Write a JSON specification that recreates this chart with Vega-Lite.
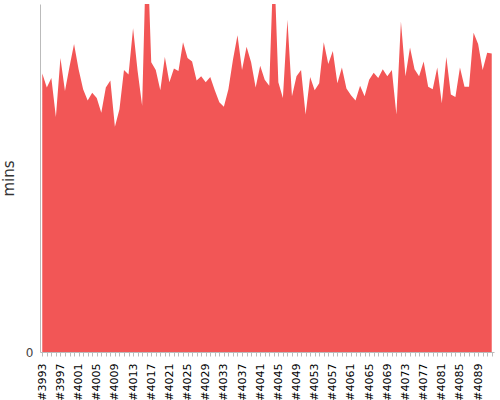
{
  "$schema": "https://vega.github.io/schema/vega-lite/v6.json",
  "description": "Build duration per run, area chart clipped at the top.",
  "width": 454,
  "height": 348,
  "autosize": {"type": "none"},
  "padding": {"left": 40, "top": 4, "right": 6, "bottom": 48},
  "background": "white",
  "config": {"view": {"stroke": null}, "font": "DejaVu Sans"},
  "data": {
    "values": [
      {"build": "#3993", "mins": 32.0}, {"build": "#3994", "mins": 30.4}, {"build": "#3995", "mins": 31.5}, {"build": "#3996", "mins": 27.0},
      {"build": "#3997", "mins": 33.8}, {"build": "#3998", "mins": 30.0}, {"build": "#3999", "mins": 32.8}, {"build": "#4000", "mins": 35.4},
      {"build": "#4001", "mins": 32.5}, {"build": "#4002", "mins": 30.2}, {"build": "#4003", "mins": 28.9}, {"build": "#4004", "mins": 29.8},
      {"build": "#4005", "mins": 29.2}, {"build": "#4006", "mins": 27.5}, {"build": "#4007", "mins": 30.4}, {"build": "#4008", "mins": 31.2},
      {"build": "#4009", "mins": 25.9}, {"build": "#4010", "mins": 27.9}, {"build": "#4011", "mins": 32.4}, {"build": "#4012", "mins": 31.9},
      {"build": "#4013", "mins": 37.2}, {"build": "#4014", "mins": 32.3}, {"build": "#4015", "mins": 28.3}, {"build": "#4016", "mins": 48.6},
      {"build": "#4017", "mins": 33.3}, {"build": "#4018", "mins": 32.4}, {"build": "#4019", "mins": 30.1}, {"build": "#4020", "mins": 33.9},
      {"build": "#4021", "mins": 31.0}, {"build": "#4022", "mins": 32.6}, {"build": "#4023", "mins": 32.3}, {"build": "#4024", "mins": 35.6},
      {"build": "#4025", "mins": 33.8}, {"build": "#4026", "mins": 33.4}, {"build": "#4027", "mins": 31.2}, {"build": "#4028", "mins": 31.7},
      {"build": "#4029", "mins": 31.0}, {"build": "#4030", "mins": 31.6}, {"build": "#4031", "mins": 30.1}, {"build": "#4032", "mins": 28.7},
      {"build": "#4033", "mins": 28.2}, {"build": "#4034", "mins": 30.2}, {"build": "#4035", "mins": 33.6}, {"build": "#4036", "mins": 36.4},
      {"build": "#4037", "mins": 32.4}, {"build": "#4038", "mins": 35.1}, {"build": "#4039", "mins": 33.3}, {"build": "#4040", "mins": 30.4},
      {"build": "#4041", "mins": 32.9}, {"build": "#4042", "mins": 31.3}, {"build": "#4043", "mins": 30.6}, {"build": "#4044", "mins": 45.7},
      {"build": "#4045", "mins": 31.0}, {"build": "#4046", "mins": 29.2}, {"build": "#4047", "mins": 38.2}, {"build": "#4048", "mins": 29.4},
      {"build": "#4049", "mins": 31.7}, {"build": "#4050", "mins": 32.4}, {"build": "#4051", "mins": 27.3}, {"build": "#4052", "mins": 31.6},
      {"build": "#4053", "mins": 30.1}, {"build": "#4054", "mins": 30.9}, {"build": "#4055", "mins": 35.6}, {"build": "#4056", "mins": 33.1},
      {"build": "#4057", "mins": 34.6}, {"build": "#4058", "mins": 30.9}, {"build": "#4059", "mins": 32.7}, {"build": "#4060", "mins": 30.3},
      {"build": "#4061", "mins": 29.5}, {"build": "#4062", "mins": 28.9}, {"build": "#4063", "mins": 30.6}, {"build": "#4064", "mins": 29.4},
      {"build": "#4065", "mins": 31.3}, {"build": "#4066", "mins": 32.1}, {"build": "#4067", "mins": 31.5}, {"build": "#4068", "mins": 32.5},
      {"build": "#4069", "mins": 31.7}, {"build": "#4070", "mins": 32.4}, {"build": "#4071", "mins": 27.3}, {"build": "#4072", "mins": 38.0},
      {"build": "#4073", "mins": 31.7}, {"build": "#4074", "mins": 35.0}, {"build": "#4075", "mins": 32.5}, {"build": "#4076", "mins": 31.7},
      {"build": "#4077", "mins": 33.4}, {"build": "#4078", "mins": 30.5}, {"build": "#4079", "mins": 30.2}, {"build": "#4080", "mins": 32.7},
      {"build": "#4081", "mins": 28.6}, {"build": "#4082", "mins": 33.9}, {"build": "#4083", "mins": 29.6}, {"build": "#4084", "mins": 29.3},
      {"build": "#4085", "mins": 32.7}, {"build": "#4086", "mins": 30.5}, {"build": "#4087", "mins": 30.5}, {"build": "#4088", "mins": 36.7},
      {"build": "#4089", "mins": 35.4}, {"build": "#4090", "mins": 32.4}, {"build": "#4091", "mins": 34.4}, {"build": "#4092", "mins": 34.3}
    ]
  },
  "mark": {"type": "area", "color": "#f25656", "clip": true},
  "encoding": {
    "x": {
      "field": "build",
      "type": "ordinal",
      "scale": {"type": "point", "padding": 0.5},
      "title": null,
      "axis": {
        "labelAngle": -90,
        "labelOverlap": false,
        "labelColor": "#000000",
        "labelFontSize": 11,
        "labelPadding": 7,
        "labelExpr": "(toNumber(slice(datum.label, 1)) - 3993) % 4 == 0 ? datum.label : ''",
        "tickColor": "#bbbbbb",
        "tickSize": 4,
        "domainColor": "#bbbbbb",
        "grid": false
      }
    },
    "y": {
      "field": "mins",
      "type": "quantitative",
      "scale": {"domain": [0, 40]},
      "title": "mins",
      "axis": {
        "values": [0],
        "grid": false,
        "ticks": false,
        "labelPadding": 7,
        "labelFontSize": 12,
        "labelColor": "#444444",
        "domainColor": "#bbbbbb",
        "titleFontSize": 15,
        "titleFontWeight": "normal",
        "titleColor": "#333333",
        "titlePadding": 9
      }
    }
  }
}
